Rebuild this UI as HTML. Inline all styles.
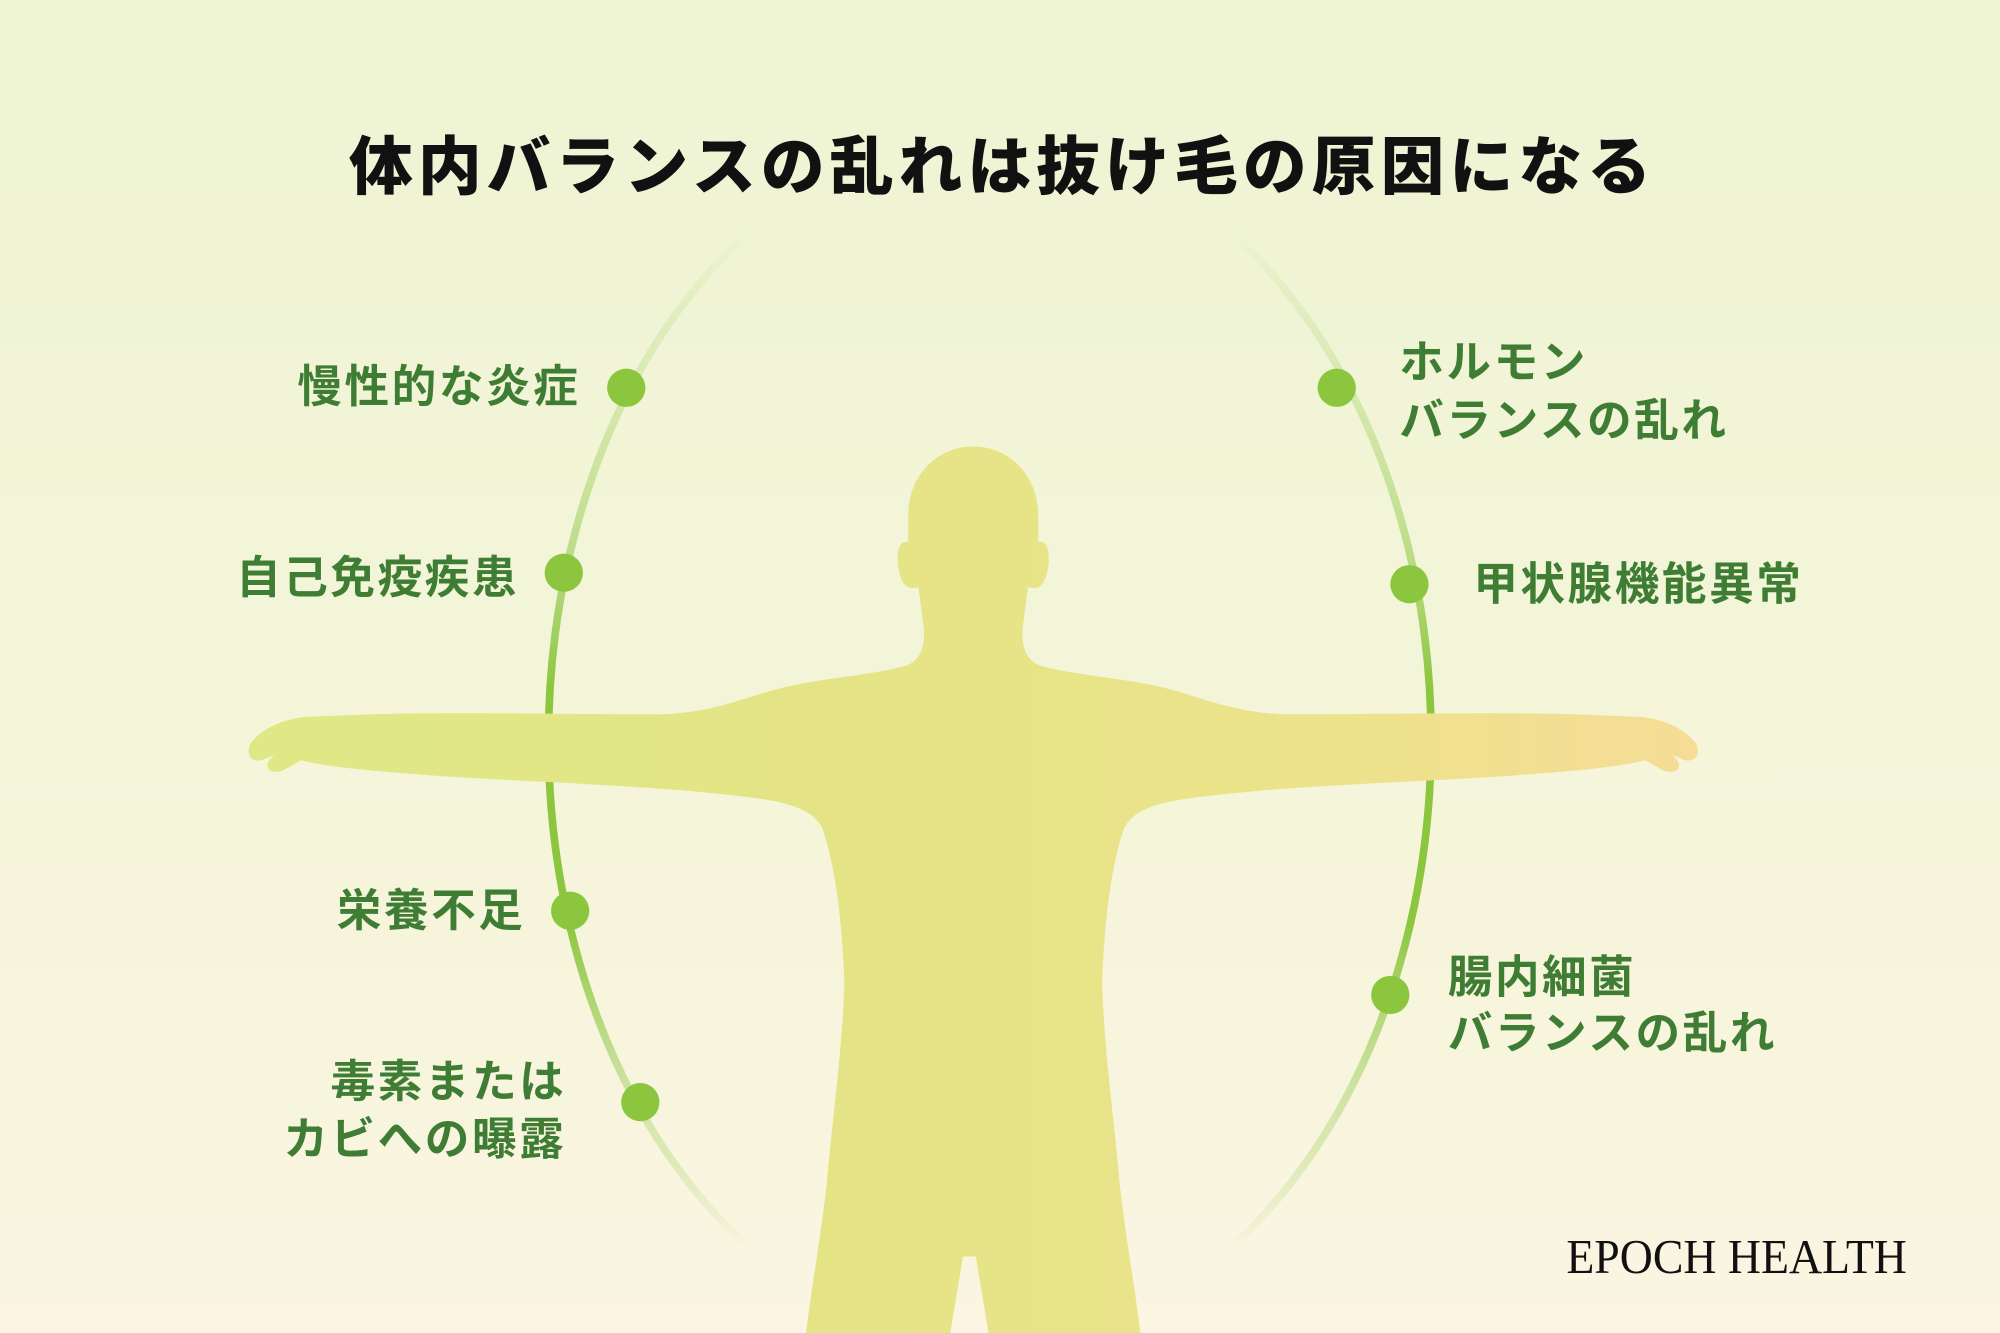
<!DOCTYPE html>
<html><head><meta charset="utf-8">
<style>
html,body{margin:0;padding:0;width:2000px;height:1333px;overflow:hidden;}
svg{display:block;}
</style></head>
<body>
<svg width="2000" height="1333" viewBox="0 0 1568 1045" preserveAspectRatio="none" xmlns="http://www.w3.org/2000/svg">
<defs>
<linearGradient id="bg" x1="0" y1="0" x2="0" y2="1">
<stop offset="0" stop-color="#eef4d3"/>
<stop offset="0.5" stop-color="#f3f5d8"/>
<stop offset="1" stop-color="#fbf5e1"/>
</linearGradient>
<linearGradient id="arc" gradientUnits="userSpaceOnUse" x1="0" y1="180" x2="0" y2="980">
<stop offset="0" stop-color="#8cc63f" stop-opacity="0"/>
<stop offset="0.1" stop-color="#a9d36d" stop-opacity="0.25"/>
<stop offset="0.3" stop-color="#9fcf5e" stop-opacity="0.6"/>
<stop offset="0.45" stop-color="#8cc63f" stop-opacity="1"/>
<stop offset="0.68" stop-color="#8cc63f" stop-opacity="1"/>
<stop offset="0.85" stop-color="#a9d36d" stop-opacity="0.5"/>
<stop offset="1" stop-color="#8cc63f" stop-opacity="0"/>
</linearGradient>
<linearGradient id="body" gradientUnits="userSpaceOnUse" x1="190" y1="0" x2="1335" y2="0">
<stop offset="0" stop-color="#dfe886"/>
<stop offset="0.4" stop-color="#e4e486"/>
<stop offset="0.7" stop-color="#ebe38a"/>
<stop offset="1" stop-color="#f6dc96"/>
</linearGradient>
</defs>
<rect x="0" y="0" width="1568" height="1045" fill="url(#bg)"/>

<ellipse cx="776" cy="580" rx="346" ry="475" fill="none" stroke="url(#arc)" stroke-width="6"/>

<path fill="url(#body)" d="M763,350 C735,350 712,372 712,405 L712,425 C703,422 702,440 706,452 C709,462 716,462 720,460 L724,490 C726,505 722,518 710,522 C680,530 640,532 610,540 C580,548 560,558 520,560 C440,560 350,558 290,560 L240,562 C220,564 205,572 197,582 C192,590 196,598 205,596 L215,592 C205,600 210,608 222,604 L236,596 C260,602 300,605 340,608 C400,612 480,615 540,620 C600,626 635,628 645,650 C655,680 660,720 662,770 C660,830 652,880 648,930 C642,980 636,1010 632,1045 L745,1045 L755,985 L765,985 L775,1045 L894,1045 C890,1010 884,980 878,930 C874,880 866,830 864,770 C866,720 871,680 881,650 C891,628 926,626 986,620 C1046,615 1126,612 1186,608 C1226,605 1266,602 1290,596 L1304,604 C1316,608 1321,600 1311,592 L1321,596 C1330,598 1334,590 1329,582 C1321,572 1306,564 1286,562 L1236,560 C1176,558 1086,560 1006,560 C966,558 946,548 916,540 C886,532 846,530 816,522 C804,518 800,505 802,490 L806,460 C810,462 817,462 820,452 C824,440 823,422 814,425 L814,405 C814,372 791,350 763,350 Z"/>

<g fill="#8cc63f">
<circle cx="491" cy="304" r="15"/>
<circle cx="442" cy="449" r="15"/>
<circle cx="447" cy="714" r="15"/>
<circle cx="502" cy="864" r="15"/>
<circle cx="1048" cy="304" r="15"/>
<circle cx="1105" cy="458" r="15"/>
<circle cx="1090" cy="780" r="15"/>
</g>

<text x="786" y="148" text-anchor="middle" font-family="'Liberation Sans','Noto Sans CJK JP',sans-serif" font-weight="900" font-size="50" letter-spacing="4" fill="#111">体内バランスの乱れは抜け毛の原因になる</text>

<g font-family="'Liberation Sans','Noto Sans CJK JP',sans-serif" font-weight="700" font-size="35" fill="#3f7d34" letter-spacing="2">
<text x="455" y="315" text-anchor="end">慢性的な炎症</text>
<text x="407" y="465" text-anchor="end">自己免疫疾患</text>
<text x="412" y="726" text-anchor="end">栄養不足</text>
<text x="444" y="860" text-anchor="end">毒素または</text>
<text x="444" y="905" text-anchor="end">カビへの曝露</text>
<text x="1097" y="296">ホルモン</text>
<text x="1097" y="342">バランスの乱れ</text>
<text x="1155" y="470">甲状腺機能異常</text>
<text x="1135" y="778">腸内細菌</text>
<text x="1135" y="822">バランスの乱れ</text>
</g>

<text x="1228" y="998" font-family="'Liberation Serif',serif" font-size="38" fill="#111" textLength="267" lengthAdjust="spacingAndGlyphs">EPOCH HEALTH</text>
</svg>
</body></html>
